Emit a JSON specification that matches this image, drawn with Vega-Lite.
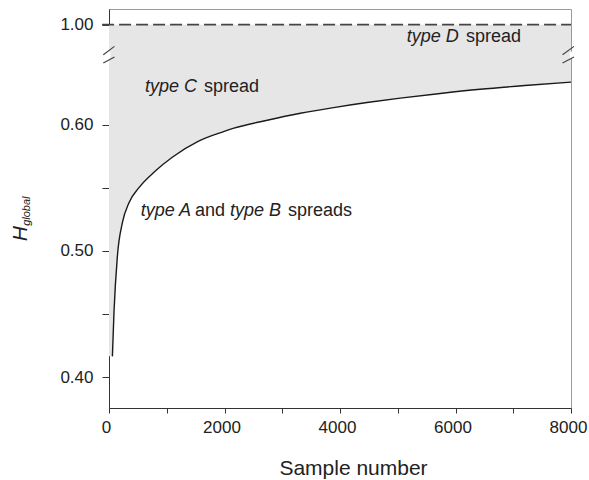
{
  "$schema": "https://vega.github.io/schema/vega-lite/v6.json",
  "autosize": {"type": "none"},
  "width": 462,
  "height": 399,
  "padding": {"left": 109, "top": 9, "right": 18, "bottom": 72},
  "background": "white",
  "config": {
    "view": {"stroke": "#9a9a9a", "strokeWidth": 1},
    "font": "Liberation Sans",
    "axis": {"grid": false, "labelFont": "Liberation Sans", "titleFont": "Liberation Sans", "labelColor": "#222", "titleColor": "#222", "domainColor": "#333", "tickColor": "#333", "titleFontWeight": "normal"}
  },
  "datasets": {
    "curve": [
      {"n": 0, "H": 0.4165},
      {"n": 59, "H": 0.4165},
      {"n": 86, "H": 0.4511},
      {"n": 145, "H": 0.4957},
      {"n": 232, "H": 0.5224},
      {"n": 346, "H": 0.5382},
      {"n": 519, "H": 0.5501},
      {"n": 807, "H": 0.5635},
      {"n": 1096, "H": 0.5742},
      {"n": 1551, "H": 0.5870},
      {"n": 1983, "H": 0.5945},
      {"n": 2163, "H": 0.5972},
      {"n": 2740, "H": 0.6035},
      {"n": 3314, "H": 0.6090},
      {"n": 3890, "H": 0.6135},
      {"n": 4467, "H": 0.6175},
      {"n": 5044, "H": 0.6210},
      {"n": 5700, "H": 0.6245},
      {"n": 6427, "H": 0.6280},
      {"n": 7200, "H": 0.6310},
      {"n": 8000, "H": 0.6337}
    ],
    "italicLabels": [
      {"t": "type C", "n": 623, "H": 0.6256},
      {"t": "type D", "n": 5155, "H": 0.6652},
      {"t": "type A", "n": 549, "H": 0.5279},
      {"t": "type B", "n": 2095, "H": 0.5279}
    ],
    "plainLabels": [
      {"t": "spread", "n": 1645, "H": 0.6256},
      {"t": "spread", "n": 6182, "H": 0.6652},
      {"t": "and", "n": 1489, "H": 0.5279},
      {"t": "spreads", "n": 3101, "H": 0.5279}
    ],
    "breaks": [
      {"n": -99, "n2": 95, "H": 0.6554, "H2": 0.6620},
      {"n": -99, "n2": 95, "H": 0.6489, "H2": 0.6536},
      {"n": 7853, "n2": 8052, "H": 0.6554, "H2": 0.6620},
      {"n": 7853, "n2": 8052, "H": 0.6489, "H2": 0.6536}
    ],
    "gaps": [
      {"n": 0, "H": 0.6522, "H2": 0.6578},
      {"n": 8000, "H": 0.6522, "H2": 0.6578}
    ],
    "top": [
      {"n": -120, "n2": 8000, "H": 0.6792}
    ]
  },
  "layer": [
    {
      "data": {"name": "curve"},
      "mark": {"type": "area", "color": "#e6e6e6", "interpolate": "monotone"},
      "encoding": {
        "x": {"field": "n", "type": "quantitative", "scale": {"domain": [0, 8000], "nice": false, "zero": false},
          "axis": {"values": [0, 1000, 2000, 3000, 4000, 5000, 6000, 7000, 8000], "labelExpr": "datum.value % 2000 == 0 ? format(datum.value, 'd') : ''", "labelFontSize": 17, "tickSize": 5, "labelPadding": 6, "labelOffset": -3, "title": "Sample number", "titleFontSize": 21, "titlePadding": 22, "titleX": 244, "titleAlign": "center", "labelFlush": false}},
        "y": {"field": "H", "type": "quantitative", "scale": {"domain": [0.3756, 0.6916], "nice": false, "zero": false},
          "axis": {"values": [0.4, 0.45, 0.5, 0.55, 0.6, 0.6792], "labelExpr": "datum.value > 0.65 ? '1.00' : ((abs(datum.value - 0.45) < 0.001 || abs(datum.value - 0.55) < 0.001) ? '' : format(datum.value, '.2f'))", "labelFontSize": 17, "tickSize": 7, "labelPadding": 9, "title": null, "labelFlush": false}},
        "y2": {"datum": 0.6792}
      }
    },
    {
      "data": {"name": "curve"},
      "transform": [{"filter": "datum.n > 0"}],
      "mark": {"type": "line", "color": "#1a1a1a", "strokeWidth": 1.4, "interpolate": "monotone"},
      "encoding": {
        "x": {"field": "n", "type": "quantitative"},
        "y": {"field": "H", "type": "quantitative"}
      }
    },
    {
      "data": {"name": "top"},
      "mark": {"type": "rule", "color": "#444", "strokeWidth": 1.6, "strokeDash": [12, 5]},
      "encoding": {
        "x": {"field": "n", "type": "quantitative"},
        "x2": {"field": "n2"},
        "y": {"field": "H", "type": "quantitative"}
      }
    },
    {
      "data": {"name": "gaps"},
      "mark": {"type": "rule", "color": "white", "strokeWidth": 2.5},
      "encoding": {
        "x": {"field": "n", "type": "quantitative"},
        "y": {"field": "H", "type": "quantitative"},
        "y2": {"field": "H2"}
      }
    },
    {
      "data": {"name": "breaks"},
      "mark": {"type": "rule", "color": "#444", "strokeWidth": 1.2},
      "encoding": {
        "x": {"field": "n", "type": "quantitative"},
        "x2": {"field": "n2"},
        "y": {"field": "H", "type": "quantitative"},
        "y2": {"field": "H2"}
      }
    },
    {
      "data": {"name": "italicLabels"},
      "mark": {"type": "text", "align": "left", "baseline": "alphabetic", "fontSize": 18, "fontStyle": "italic", "color": "#222"},
      "encoding": {
        "x": {"field": "n", "type": "quantitative"},
        "y": {"field": "H", "type": "quantitative"},
        "text": {"field": "t"}
      }
    },
    {
      "data": {"name": "plainLabels"},
      "mark": {"type": "text", "align": "left", "baseline": "alphabetic", "fontSize": 18, "color": "#222"},
      "encoding": {
        "x": {"field": "n", "type": "quantitative"},
        "y": {"field": "H", "type": "quantitative"},
        "text": {"field": "t"}
      }
    },
    {
      "data": {"values": [{"t": "H", "n": -1425, "H": 0.5137}]},
      "mark": {"type": "text", "align": "center", "baseline": "alphabetic", "angle": 270, "fontSize": 21, "fontStyle": "italic", "color": "#222"},
      "encoding": {
        "x": {"field": "n", "type": "quantitative"},
        "y": {"field": "H", "type": "quantitative"},
        "text": {"field": "t"}
      }
    },
    {
      "data": {"values": [{"t": "global", "n": -1368, "H": 0.5315}]},
      "mark": {"type": "text", "align": "center", "baseline": "alphabetic", "angle": 270, "fontSize": 11, "fontStyle": "italic", "color": "#222"},
      "encoding": {
        "x": {"field": "n", "type": "quantitative"},
        "y": {"field": "H", "type": "quantitative"},
        "text": {"field": "t"}
      }
    }
  ]
}
